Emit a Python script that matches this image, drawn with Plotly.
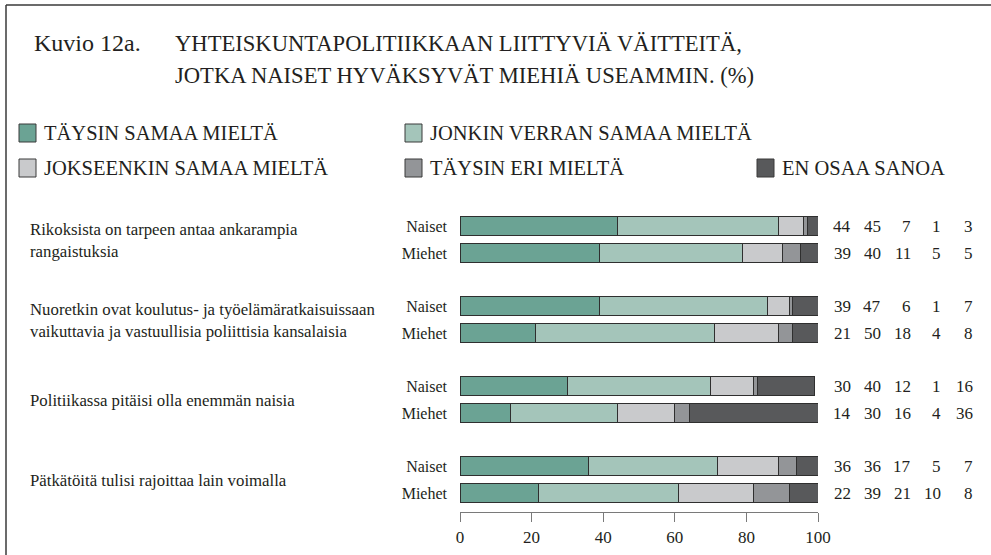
import plotly.graph_objects as go

# ---------------- data ----------------
statements = [
    "Rikoksista on tarpeen antaa ankarampia<br>rangaistuksia",
    "Nuoretkin ovat koulutus- ja työelämäratkaisuissaan<br>vaikuttavia ja vastuullisia poliittisia kansalaisia",
    "Politiikassa pitäisi olla enemmän naisia",
    "Pätkätöitä tulisi rajoittaa lain voimalla",
]
genders = ["Naiset", "Miehet"]
series_names = [
    "TÄYSIN SAMAA MIELTÄ",
    "JONKIN VERRAN SAMAA MIELTÄ",
    "JOKSEENKIN SAMAA MIELTÄ",
    "TÄYSIN ERI MIELTÄ",
    "EN OSAA SANOA",
]
# rows: statement1 Naiset, Miehet, statement2 Naiset, Miehet, ...
taysin_samaa = [44, 39, 39, 21, 30, 14, 36, 22]
jonkin_verran = [45, 40, 47, 50, 40, 30, 36, 39]
jokseenkin = [7, 11, 6, 18, 12, 16, 17, 21]
taysin_eri = [1, 5, 1, 4, 1, 4, 5, 10]
en_osaa = [3, 5, 7, 8, 16, 36, 7, 8]
series_values = [taysin_samaa, jonkin_verran, jokseenkin, taysin_eri, en_osaa]
x_ticks = [0, 20, 40, 60, 80, 100]

# ---------------- style ----------------
colors = ["#6BA394", "#A4C5BA", "#C9CACC", "#939598", "#58595B"]
W, H = 991, 555
L, R, T, B = 460, 818, 205, 512
FONT = "Liberation Serif, Times New Roman, serif"
TXT = "#231F20"
GROUP_STEP = 80 / 27
BAR_W = 19 / 27
Y_TOP = -21 / 27
Y_BOT = Y_TOP + (B - T) / 27


def px2x(px):
    return (px - L) / (R - L)


def py2y(py):
    return (B - py) / (B - T)


ypos = []
for g in range(len(statements)):
    for r in range(len(genders)):
        ypos.append(g * GROUP_STEP + r)
ylabels = [genders[i % 2] for i in range(len(ypos))]

fig = go.Figure()
for name, vals, col in zip(series_names, series_values, colors):
    fig.add_trace(go.Bar(
        x=vals, y=ypos, orientation="h", name=name, width=BAR_W,
        marker=dict(color=col, line=dict(color="#2f2f2f", width=1)),
        showlegend=False, hoverinfo="x+name",
    ))

annotations = []
shapes = []

# title
annotations.append(dict(text="Kuvio 12a.", x=px2x(32), y=py2y(43), xref="paper", yref="paper",
                        xanchor="left", yanchor="middle", showarrow=False,
                        font=dict(family=FONT, size=24, color=TXT)))
annotations.append(dict(text="YHTEISKUNTAPOLITIIKKAAN LIITTYVIÄ VÄITTEITÄ,", x=px2x(173), y=py2y(43),
                        xref="paper", yref="paper", xanchor="left", yanchor="middle", showarrow=False,
                        font=dict(family=FONT, size=22.6, color=TXT)))
annotations.append(dict(text="JOTKA NAISET HYVÄKSYVÄT MIEHIÄ USEAMMIN. (%)", x=px2x(173), y=py2y(75),
                        xref="paper", yref="paper", xanchor="left", yanchor="middle", showarrow=False,
                        font=dict(family=FONT, size=22.6, color=TXT)))

# legend
legend_pos = [(19, 133), (405, 133), (19, 168), (405, 168), (757, 168)]
for (lx, ly), name, col in zip(legend_pos, series_names, colors):
    shapes.append(dict(type="rect", xref="paper", yref="paper",
                       x0=px2x(lx), x1=px2x(lx + 17), y0=py2y(ly - 9), y1=py2y(ly + 9),
                       fillcolor=col, line=dict(color="#3a3a3a", width=1)))
    annotations.append(dict(text=name, x=px2x(lx + 23), y=py2y(ly), xref="paper", yref="paper",
                            xanchor="left", yanchor="middle", showarrow=False,
                            font=dict(family=FONT, size=20.5, color=TXT)))

# statements
for g, s in enumerate(statements):
    yc = g * GROUP_STEP + 0.55
    annotations.append(dict(text=s, x=px2x(28), y=yc, xref="paper", yref="y", xanchor="left",
                            yanchor="middle", align="left", showarrow=False,
                            font=dict(family=FONT, size=16.8, color=TXT)))

# value columns
col_right = [853, 883, 913, 943, 975]
for i, yv in enumerate(ypos):
    for k, vals in enumerate(series_values):
        annotations.append(dict(text=str(vals[i]), x=px2x(col_right[k]), y=yv, xref="paper", yref="y",
                                xanchor="right", yanchor="middle", showarrow=False,
                                font=dict(family=FONT, size=17, color=TXT)))

# frame
shapes.append(dict(type="line", xref="paper", yref="paper", x0=px2x(6), x1=px2x(W + 5),
                   y0=py2y(5), y1=py2y(5), line=dict(color="#3a3a3a", width=1.5)))
shapes.append(dict(type="line", xref="paper", yref="paper", x0=px2x(6), x1=px2x(6),
                   y0=py2y(5), y1=py2y(H + 5), line=dict(color="#3a3a3a", width=1.5)))

fig.update_layout(
    width=W, height=H, barmode="stack",
    margin=dict(l=L, r=W - R, t=T, b=H - B, pad=0, autoexpand=False),
    paper_bgcolor="white", plot_bgcolor="white",
    font=dict(family=FONT, color=TXT),
    annotations=annotations, shapes=shapes,
    xaxis=dict(range=[0, 100], tickvals=x_ticks, ticktext=[str(v) for v in x_ticks],
               showgrid=False, zeroline=False, showline=True, linecolor="#7a7a7a", linewidth=1.2,
               ticks="outside", ticklen=9, tickwidth=1.2, tickcolor="#7a7a7a", automargin=False,
               tickfont=dict(family=FONT, size=17, color=TXT), ticklabelstandoff=0),
    yaxis=dict(range=[Y_BOT, Y_TOP], tickvals=ypos, ticktext=ylabels, automargin=False,
               showgrid=False, zeroline=False, showline=False, ticks="",
               tickfont=dict(family=FONT, size=16, color=TXT), ticklabelstandoff=12),
)

fig.write_html("out.html", config={"displayModeBar": False},
               post_script="document.body.style.margin='0';document.body.style.overflow='hidden';")
